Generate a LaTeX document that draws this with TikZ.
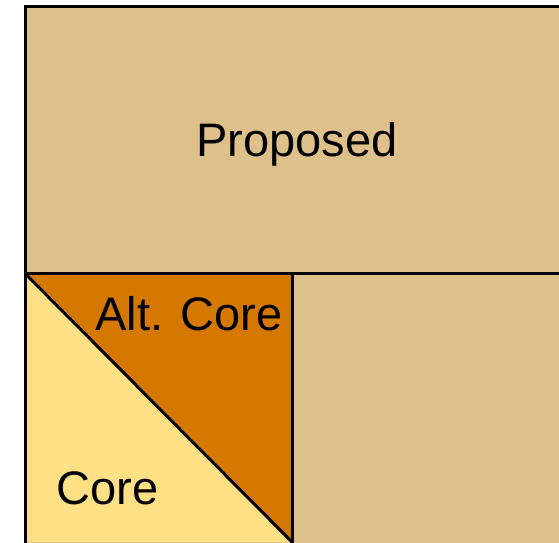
\documentclass[tikz,border=0pt]{standalone}
\usepackage{fontspec}
\setmainfont{Liberation Sans}
\definecolor{tan}{RGB}{222,192,138}
\definecolor{altcore}{RGB}{212,120,0}
\definecolor{core}{RGB}{255,224,133}
\begin{document}
\begin{tikzpicture}[x=1pt,y=1pt,line width=3pt,
    region/.style={draw=black, line join=miter},
    label/.style={font=\fontsize{47}{47}\selectfont, inner sep=0pt}]

    \useasboundingbox (0,0) rectangle (559,542);
    \clip (0,0) rectangle (559,542);

    \coordinate (TL) at (25,535);
    \coordinate (ML) at (25,268.5);
    \coordinate (MM) at (292,268.5);
    \coordinate (BM) at (292,0);
    \coordinate (BL) at (25,0);

    % outer area
    \filldraw[region, fill=tan] (TL) rectangle (575,-10);

    %------------------------------------------------

    % lower left square, split on the diagonal
    \fill[core] (ML) -- (BL) -- (BM) -- cycle;
    \fill[altcore] (ML) -- (MM) -- (BM) -- cycle;
    \draw[region] (ML) -- (BM);
    \draw[region] (ML) -- (575,268.5);
    \draw[region] (MM) -- (292,-10);
    \draw[region] (TL) -- (25,-10);

    %------------------------------------------------

    \node[label, anchor=base] (proposed) at (297,386) {Proposed};
    \node[label, anchor=base east] (alt) at (284,212) {Alt. Core};
    \node[label, anchor=base west] (corelbl) at (55,38) {Core};
\end{tikzpicture}
\end{document}
